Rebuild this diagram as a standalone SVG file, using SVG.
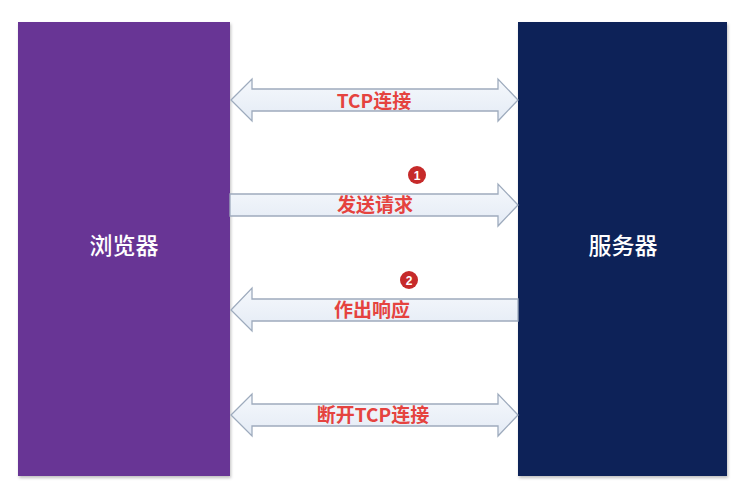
<svg xmlns="http://www.w3.org/2000/svg" width="734" height="489" viewBox="0 0 734 489">
<defs>
<linearGradient id="arrowFill" x1="0" y1="0" x2="0" y2="1">
<stop offset="0" stop-color="#f5f8fc"/>
<stop offset="1" stop-color="#e4ebf5"/>
</linearGradient>
<filter id="shadow" x="-5%" y="-5%" width="115%" height="110%">
<feDropShadow dx="1" dy="2" stdDeviation="1.5" flood-color="#000" flood-opacity="0.25"/>
</filter>
</defs>
<style>
.arrow{fill:url(#arrowFill);stroke:#9eabbd;stroke-width:1.3;stroke-linejoin:miter}
.label{font-family:"Noto Sans CJK SC","Liberation Sans",sans-serif;font-size:19px;font-weight:bold;fill:#e5433f;text-anchor:middle}
.node-text{font-family:"Noto Sans CJK SC","Liberation Sans",sans-serif;font-size:23px;font-weight:500;fill:#ffffff;text-anchor:middle}
.badge{fill:#c62a2a}
.badge-text{font-family:"Liberation Sans",sans-serif;font-size:12px;font-weight:bold;fill:#ffffff;text-anchor:middle}
</style>
<rect width="734" height="489" fill="#ffffff"/>
<g id="browser">
<rect x="18" y="22" width="212" height="454" fill="#673695" filter="url(#shadow)"/>
<text class="node-text" x="124" y="254">浏览器</text>
</g>
<g id="server">
<rect x="518" y="22" width="209" height="454" fill="#0b2158" filter="url(#shadow)"/>
<text class="node-text" x="623" y="254">服务器</text>
</g>
<g id="connectors">
<g id="tcp-connect">
<path class="arrow" d="M231,100 L252,79 L252,89 L498,89 L498,79 L518,100 L498,121 L498,111 L252,111 L252,121 Z"/>
<text class="label" x="374" y="108">TCP连接</text>
</g>
<g id="send-request">
<path class="arrow" d="M230,194 L498,194 L498,184 L518,205 L498,226 L498,216 L230,216 Z"/>
<text class="label" x="375" y="212">发送请求</text>
<circle class="badge" cx="417" cy="175" r="9"/>
<text class="badge-text" x="417" y="179.5">1</text>
</g>
<g id="response">
<path class="arrow" d="M518,299 L252,299 L252,288 L231,310 L252,331 L252,321 L518,321 Z"/>
<text class="label" x="372" y="317">作出响应</text>
<circle class="badge" cx="409" cy="280" r="9"/>
<text class="badge-text" x="409" y="284.5">2</text>
</g>
<g id="tcp-disconnect">
<path class="arrow" d="M231,415 L252,394 L252,404 L498,404 L498,394 L518,415 L498,436 L498,426 L252,426 L252,436 Z"/>
<text class="label" x="373" y="422">断开TCP连接</text>
</g>
</g>
</svg>
